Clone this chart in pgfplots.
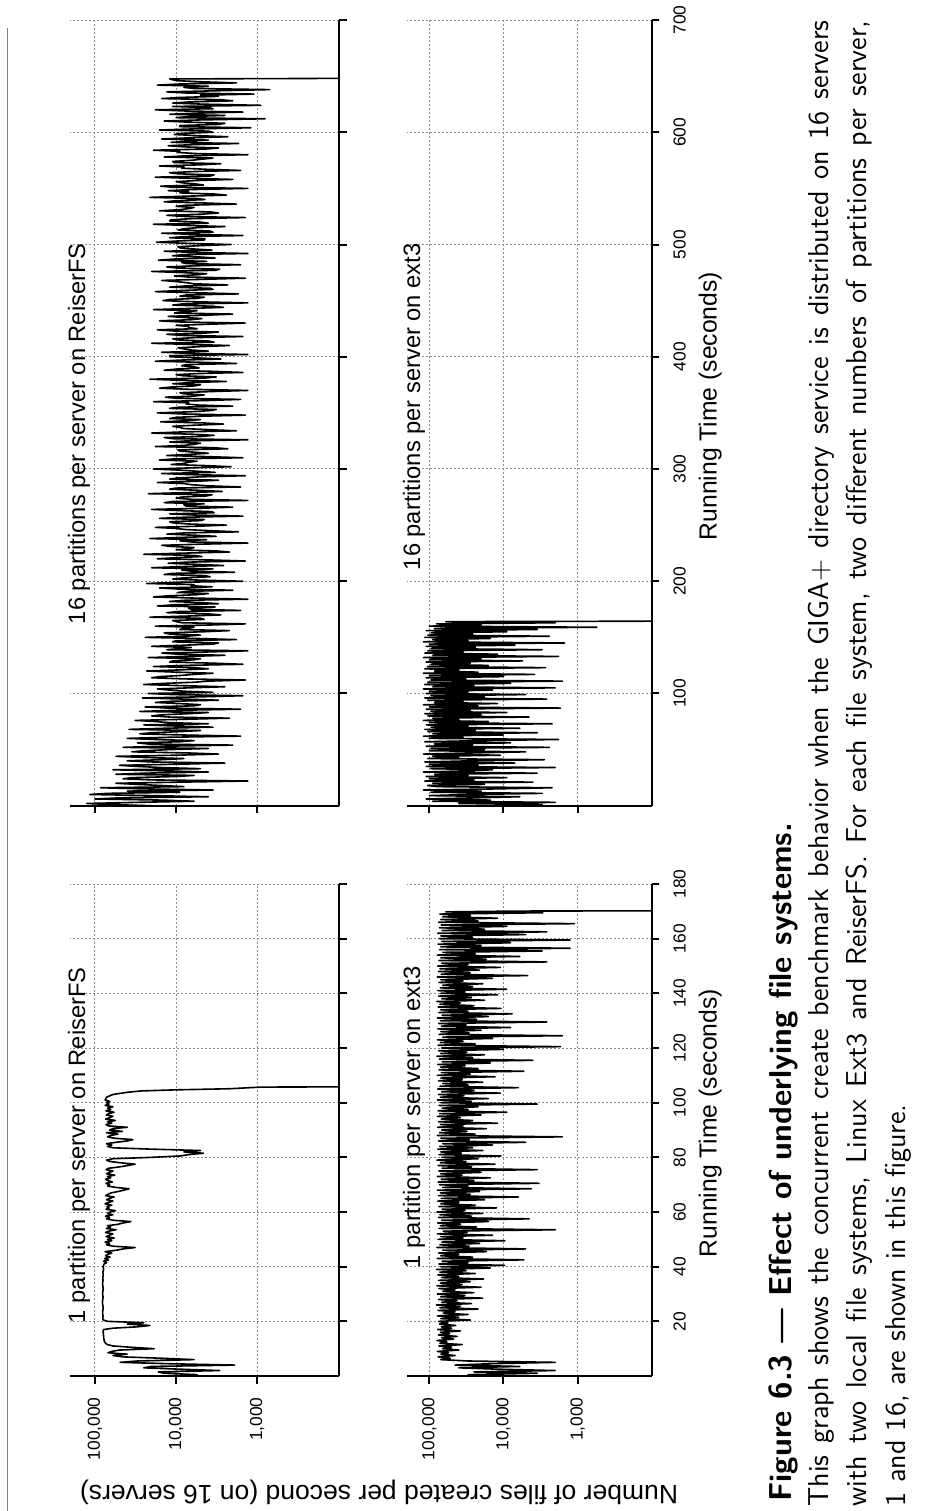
\documentclass[border=0pt]{standalone}
\usepackage{fontspec}
\usepackage{pgfplots}
\pgfplotsset{compat=1.18}
\newfontfamily\chartfont{Liberation Sans}
\newcommand{\tfont}{\chartfont\fontsize{8.7}{10.4}\selectfont}
\pgfplotsset{
  mypanel/.style={
    scale only axis,
    axis x line=bottom, axis y line=right,
    axis line style={-, line width=1pt},
    tick style={line width=1pt, black},
    tick align=outside, major tick length=3.75pt,
    xtick={1000,10000,100000}, xminorticks=false, yminorticks=false,
    grid=major, grid style={black!45, line width=0.5pt, dash pattern=on 1pt off 1pt},
    tick label style={font=\tfont, inner sep=0pt},
    xticklabel style={font=\tfont, rotate=90, anchor=east},
    yticklabel style={font=\tfont, rotate=90, anchor=north},
    xticklabel shift=6.75pt, yticklabel shift=6.75pt,
    clip=true,
  },
  mydline/.style={black, line width=0.8pt, mark=none, line join=round},
}
\begin{document}
\begin{tikzpicture}
\useasboundingbox (0,0) rectangle (465.5pt,-755.5pt);
\draw[black!50, line width=0.65pt] (3.7pt,-14pt) -- (3.7pt,-755.5pt);

% 1 partition, ReiserFS
\begin{axis}[xmode=log, x dir=reverse, mypanel, at={(35pt,-688pt)}, anchor=south west, width=134.5pt, height=246pt,
  xmin=98, xmax=203000, ymin=0, ymax=180, ytick={20,40,...,180}, yticklabels={},
  xticklabels={{\tfont 1,000},{\tfont 10,000},{\tfont 100,000}}]
\addplot[mydline] coordinates {(8000,0) (5500,0.5) (14000,1) (16600,1.5) (2900,2) (9000,2.5) (25000,3) (20000,3.5) (1900,4) (12000,4.5) (49000,5) (30000,5.5) (6000,6) (15000,6.5) (45000,7) (60000,7.5) (40000,8) (69000,8.5) (62000,9) (50000,9.5) (18600,10) (35000,10.5) (60000,11) (70000,11.5) (74000,12) (76000,12.5) (77000,13) (77500,13.5) (78000,14) (78500,15) (79000,16) (79500,16.5) (78000,17) (60000,17.5) (30000,18) (21000,18.5) (40000,19) (25000,19.5) (70000,20) (79000,20.5) (80000,21) (79500,22) (80500,23) (80000,24) (79000,25) (80000,26) (81000,27) (80000,28) (79500,29) (80500,30) (80000,31) (79000,32) (80000,33) (80500,34) (79500,35) (80000,36) (79000,37) (80000,38) (78000,39) (79500,40) (77000,41) (72000,41.5) (78000,42) (68000,42.5) (76000,43) (65000,43.5) (74000,44) (70000,44.5) (62000,45) (75000,45.5) (55000,46) (45000,46.5) (32000,47) (60000,47.5) (72000,48) (66000,48.5) (75000,49) (62000,49.5) (70000,50) (58000,50.5) (73000,51) (66000,51.5) (60000,52) (74000,52.5) (68000,53) (55000,53.5) (72000,54) (64000,54.5) (70000,55) (52000,55.5) (45000,56) (36000,56.5) (60000,57) (72000,57.5) (66000,58) (74000,58.5) (60000,59) (70000,59.5) (65000,60) (56000,60.5) (73000,61) (67000,61.5) (71000,62) (62000,62.5) (75000,63) (68000,63.5) (60000,64) (72000,64.5) (66000,65) (58000,65.5) (74000,66) (69000,66.5) (63000,67) (52000,67.5) (44000,68) (38000,68.5) (55000,69) (70000,69.5) (66000,70) (73000,70.5) (61000,71) (69000,71.5) (74000,72) (64000,72.5) (70000,73) (57000,73.5) (72000,74) (66000,74.5) (60000,75) (73000,75.5) (68000,76) (50000,76.5) (40000,77) (32000,77.5) (48000,78) (66000,78.5) (72000,79) (60000,79.5) (20000,80) (9000,80.5) (7000,81) (4600,81.5) (8000,82) (5000,82.5) (20000,83) (60000,83.5) (70000,84) (62000,84.5) (72000,85) (55000,85.5) (40000,86) (34000,86.5) (58000,87) (70000,87.5) (64000,88) (52000,88.5) (72000,89) (46000,89.5) (66000,90) (60000,90.5) (40000,91) (68000,91.5) (73000,92) (62000,92.5) (70000,93) (56000,93.5) (74000,94) (66000,94.5) (60000,95) (72000,95.5) (68000,96) (58000,96.5) (73000,97) (64000,97.5) (70000,98) (60000,98.5) (75000,99) (67000,99.5) (72000,100) (66000,100.5) (75000,101) (72000,102) (60000,103) (40000,103.8) (27000,104.3) (10000,104.7) (2200,105.1) (900,105.7) (1,106)};
\end{axis}

% 1 partition, ext3
\begin{axis}[xmode=log, x dir=reverse, mypanel, at={(203.5pt,-688pt)}, anchor=south west, width=122.5pt, height=246pt,
  xmin=99, xmax=200000, ymin=0, ymax=180, ytick={20,40,...,180},
  yticklabels={{\tfont 20},{\tfont 40},{\tfont 60},{\tfont 80},{\tfont 100},{\tfont 120},{\tfont 140},{\tfont 160},{\tfont 180}},
  xticklabels={{\tfont 1,000},{\tfont 10,000},{\tfont 100,000}}]
\addplot[mydline] coordinates {(8000,0) (30000,0.5) (3500,1) (25000,1.5) (2000,2) (12000,2.5) (40000,3) (6000,3.5) (45000,4) (15000,4.5) (2000,5) (30000,5.5) (70000,6) (52000,6.5) (76000,7) (45000,7.5) (70000,8) (55000,8.5) (78000,9) (40000,9.5) (66000,10) (50000,10.5) (74000,11) (36000,11.5) (72000,12) (58000,12.5) (79000,13) (47000,13.5) (68000,14) (42000,14.5) (75000,15) (53000,15.5) (71000,16) (38000,16.5) (77000,17) (50000,17.5) (69000,18) (44000,18.5) (73000,19) (56000,19.5) (75000,20) (28000,20.5) (70000,21) (40000,21.5) (78000,22) (30000,22.5) (65000,23) (45000,23.5) (76000,24) (22000,24.5) (72000,25) (38000,25.5) (80000,26) (27000,26.5) (68000,27) (42000,27.5) (75000,28) (19000,28.5) (70000,29) (33000,29.5) (78000,30) (25000,30.5) (66000,31) (45000,31.5) (74000,32) (20000,32.5) (79000,33) (36000,33.5) (71000,34) (28000,34.5) (75000,35) (18500,35.5) (68000,36) (40000,36.5) (77000,37) (24000,37.5) (72000,38) (32000,38.5) (80000,39) (15000,39.5) (70000,40) (9600,40.5) (74000,41) (30000,41.5) (67000,42) (5300,42.5) (78000,43) (26000,43.5) (70000,44) (40000,44.5) (75000,45) (17000,45.5) (66000,46) (5000,46.5) (79000,47) (29000,47.5) (72000,48) (21000,48.5) (68000,49) (9600,49.5) (76000,50) (35000,50.5) (70000,51) (14000,51.5) (78000,52) (31000,52.5) (65000,53) (2000,53.5) (74000,54) (23000,54.5) (71000,55) (38000,55.5) (77000,56) (16000,56.5) (68000,57) (4500,57.5) (75000,58) (27000,58.5) (72000,59) (19000,59.5) (79000,60) (33000,60.5) (67000,61) (12300,61.5) (74000,62) (24000,62.5) (70000,63) (40000,63.5) (77000,64) (18000,64.5) (69000,65) (6300,65.5) (75000,66) (28000,66.5) (71000,67) (21000,67.5) (78000,68) (4200,68.5) (66000,69) (30000,69.5) (73000,70) (3300,70.5) (76000,71) (25000,71.5) (69000,72) (15000,72.5) (78000,73) (36000,73.5) (70000,74) (20000,74.5) (74000,75) (3500,75.5) (67000,76) (27000,76.5) (76000,77) (13000,77.5) (71000,78) (32000,78.5) (79000,79) (22000,79.5) (68000,80) (10800,80.5) (74000,81) (37000,81.5) (70000,82) (19000,82.5) (77000,83) (26000,83.5) (72000,84) (14000,84.5) (66000,85) (5000,85.5) (75000,86) (29000,86.5) (70000,87) (1600,87.5) (78000,88) (24000,88.5) (73000,89) (31000,89.5) (68000,90) (17000,90.5) (77000,91) (35000,91.5) (71000,92) (12000,92.5) (75000,93) (26000,93.5) (69000,94) (38000,94.5) (78000,95) (20000,95.5) (72000,96) (9000,96.5) (76000,97) (30000,97.5) (67000,98) (22000,98.5) (74000,99) (3500,99.5) (70000,100) (27000,100.5) (78000,101) (16000,101.5) (71000,102) (34000,102.5) (75000,103) (11000,103.5) (68000,104) (25000,104.5) (77000,105) (6300,105.5) (72000,106) (30000,106.5) (66000,107) (19000,107.5) (75000,108) (36000,108.5) (70000,109) (13000,109.5) (78000,110) (28000,110.5) (69000,111) (5300,111.5) (74000,112) (22000,112.5) (71000,113) (33000,113.5) (77000,114) (15000,114.5) (67000,115) (4000,115.5) (73000,116) (26000,116.5) (79000,117) (18000,117.5) (70000,118) (31000,118.5) (75000,119) (10000,119.5) (68000,120) (1700,120.5) (76000,121) (24000,121.5) (71000,122) (35000,122.5) (78000,123) (14000,123.5) (66000,124) (1600,124.5) (74000,125) (29000,125.5) (70000,126) (20000,126.5) (77000,127) (8000,127.5) (69000,128) (32000,128.5) (75000,129) (2600,129.5) (71000,130) (23000,130.5) (78000,131) (16000,131.5) (67000,132) (7600,132.5) (74000,133) (30000,133.5) (70000,134) (10800,134.5) (76000,135) (25000,135.5) (72000,136) (38000,136.5) (79000,137) (18000,137.5) (68000,138) (27000,138.5) (75000,139) (12000,139.5) (70000,140) (33000,140.5) (77000,141) (9100,141.5) (71000,142) (26000,142.5) (66000,143) (19000,143.5) (74000,144) (35000,144.5) (70000,145) (14000,145.5) (78000,146) (4700,146.5) (69000,147) (28000,147.5) (75000,148) (21000,148.5) (72000,149) (11000,149.5) (77000,150) (30000,150.5) (68000,151) (2600,151.5) (74000,152) (17000,152.5) (70000,153) (6000,153.5) (78000,154) (24000,154.5) (66000,155) (3000,155.5) (73000,156) (1260,156.5) (70000,157) (20000,157.5) (76000,158) (8000,158.5) (68000,159) (1260,159.5) (74000,160) (26000,160.5) (70000,161) (5000,161.5) (77000,162) (2600,162.5) (67000,163) (18000,163.5) (73000,164) (9000,164.5) (69000,165) (1100,165.5) (75000,166) (22000,166.5) (70000,167) (12000,167.5) (66000,168) (28000,168.5) (72000,169) (2950,169.5) (60000,169.8) (7000,170.1) (1,170.3)};
\end{axis}

% 16 partitions, ReiserFS
\begin{axis}[xmode=log, x dir=reverse, mypanel, at={(35pt,-402.85pt)}, anchor=south west, width=134.5pt, height=392.85pt,
  xmin=98, xmax=203000, ymin=0, ymax=700, ytick={100,200,...,700}, yticklabels={},
  xticklabels={}]
\addplot[mydline] coordinates {(20000,0) (60000,1) (126000,2) (30000,3) (6000,4) (15000,5) (100000,6) (50000,7) (4000,8) (20000,9) (115000,10) (70000,11) (9000,12) (40000,13) (3500,14) (25000,15) (85000,16) (8000,17) (15000,18) (30000,19) (55000,20) (9000,21) (1300,22) (20000,23) (45000,24) (35000,25) (10000,26) (6000,27) (55000,28) (25000,29) (4000,30) (12000,31) (60000,32) (5000,33) (15000,34) (30000,35) (50000,36) (9000,37) (2500,38) (20000,39) (40000,40) (15000,41) (8000,42) (25000,43) (55000,44) (10000,45) (3000,46) (7000,47) (35000,48) (25000,49) (12000,50) (4000,51) (45000,52) (15000,53) (2000,54) (22000,55) (30000,56) (9000,57) (6000,58) (18000,59) (40000,60) (12000,61) (1600,62) (8000,63) (28000,64) (20000,65) (9000,66) (5000,67) (38000,68) (14000,69) (3500,70) (10000,71) (25000,72) (4000,73) (12000,74) (18000,75) (32000,76) (8000,77) (2200,78) (12000,79) (20000,80) (15000,81) (7000,82) (4000,83) (28000,84) (10000,85) (1600,86) (13000,87) (24000,88) (6000,89) (5000,90) (9000,91) (18000,92) (12000,93) (3000,94) (8000,95) (26000,96) (5000,97) (1500,98) (11000,99) (22000,100) (3500,101) (8000,102) (12000,103) (17000,104) (7000,105) (2500,106) (9000,107) (25000,108) (14000,109) (6000,110) (4000,111) (1400,112) (8000,113) (20000,114) (16000,115) (9000,116) (6000,117) (3500,118) (10000,119) (23000,120) (9000,121) (4000,122) (6000,123) (19000,124) (8000,125) (1500,126) (3500,127) (12000,128) (11000,129) (6000,130) (5000,131) (22000,132) (7000,133) (2500,134) (9500,135) (15000,136) (4000,137) (1300,138) (13000,139) (9000,140) (6500,141) (20000,142) (8000,143) (3500,144) (3000,145) (11000,146) (10000,147) (1800,148) (5500,149) (24000,150) (7500,151) (5000,152) (12000,153) (14000,154) (4500,155) (2200,156) (9000,157) (8000,158) (6000,159) (18000,160) (3800,161) (1400,162) (8500,163) (10000,164) (11000,165) (4500,166) (5000,167) (21000,168) (7000,169) (2800,170) (4200,171) (13000,172) (9500,173) (1600,174) (6500,175) (7000,176) (3300,177) (17000,178) (10500,179) (3000,180) (5000,181) (12000,182) (8000,183) (1300,184) (6000,185) (19000,186) (12500,187) (5500,188) (4000,189) (9500,190) (7000,191) (2000,192) (9000,193) (16000,194) (3600,195) (6500,196) (6000,197) (23000,198) (10000,199) (1500,200) (5200,201) (11000,202) (8000,203) (3800,204) (4400,205) (14000,206) (11000,207) (1900,208) (6500,209) (8500,210) (3500,211) (20000,212) (9000,213) (2600,214) (5500,215) (12500,216) (7500,217) (1400,218) (4000,219) (17000,220) (10000,221) (4800,222) (6000,223) (25000,224) (8500,225) (2200,226) (3200,227) (10000,228) (7000,229) (6000,230) (11500,231) (15000,232) (5000,233) (1300,234) (6500,235) (9000,236) (4200,237) (21000,238) (9000,239) (3200,240) (6000,241) (13000,242) (8000,243) (1700,244) (3700,245) (7500,246) (10000,247) (18000,248) (5500,249) (2400,250) (7000,251) (11000,252) (12000,253) (5000,254) (4500,255) (16000,256) (8000,257) (1500,258) (6000,259) (12000,260) (3400,261) (3600,262) (9500,263) (20000,264) (5000,265) (2000,266) (7500,267) (8000,268) (4500,269) (14000,270) (11000,271) (1300,272) (6500,273) (10000,274) (8500,275) (4200,276) (3600,277) (22000,278) (7000,279) (2700,280) (5200,281) (12000,282) (10000,283) (1600,284) (4000,285) (6500,286) (8000,287) (17000,288) (6000,289) (3000,290) (12000,291) (9500,292) (5000,293) (1400,294) (7000,295) (15000,296) (3300,297) (5500,298) (9000,299) (19000,300) (6500,301) (2100,302) (4200,303) (11500,304) (8000,305) (7000,306) (5500,307) (16000,308) (10500,309) (1500,310) (4000,311) (13000,312) (7000,313) (4000,314) (6000,315) (9000,316) (9500,317) (2300,318) (3500,319) (18000,320) (8000,321) (6000,322) (5000,323) (12000,324) (7500,325) (1300,326) (11000,327) (14000,328) (4800,329) (3400,330) (6500,331) (20000,332) (8500,333) (1800,334) (3800,335) (8000,336) (9000,337) (11000,338) (6000,339) (2600,340) (4500,341) (15500,342) (7500,343) (5000,344) (12000,345) (10000,346) (5000,347) (1400,348) (8000,349) (17000,350) (6500,351) (3800,352) (3200,353) (12000,354) (9500,355) (2000,356) (5500,357) (7500,358) (7000,359) (19000,360) (4200,361) (1600,362) (10000,363) (13500,364) (6000,365) (4500,366) (8000,367) (9000,368) (3600,369) (1300,370) (7000,371) (16000,372) (11500,373) (6000,374) (5000,375) (11000,376) (6500,377) (2400,378) (9000,379) (21000,380) (4400,381) (3200,382) (8000,383) (10000,384) (5500,385) (1500,386) (3500,387) (14000,388) (10000,389) (5200,390) (6000,391) (8500,392) (7500,393) (1800,394) (4500,395) (18000,396) (9000,397) (2800,398) (5500,399) (12000,400) (12000,401) (1300,402) (6500,403) (15000,404) (4000,405) (6500,406) (8000,407) (9500,408) (5000,409) (2200,410) (7000,411) (20000,412) (3400,413) (4000,414) (9500,415) (11000,416) (6000,417) (1500,418) (8500,419) (13000,420) (4600,421) (3000,422) (11000,423) (17000,424) (5500,425) (7000,426) (7000,427) (10000,428) (3800,429) (1400,430) (9000,431) (16000,432) (6500,433) (4800,434) (8000,435) (12500,436) (4200,437) (2000,438) (10500,439) (8000,440) (5500,441) (19000,442) (7000,443) (2600,444) (3500,445) (11000,446) (8500,447) (1300,448) (6000,449) (14500,450) (12000,451) (5500,452) (4500,453) (9000,454) (7500,455) (1700,456) (5500,457) (18000,458) (9000,459) (3500,460) (3800,461) (12000,462) (8000,463) (2300,464) (6000,465) (7500,466) (10000,467) (15000,468) (4500,469) (1400,470) (7000,471) (10500,472) (5500,473) (4200,474) (8500,475) (20000,476) (3300,477) (2900,478) (9500,479) (13000,480) (6000,481) (1600,482) (7500,483) (8500,484) (4200,485) (16500,486) (11000,487) (3300,488) (5500,489) (11000,490) (8000,491) (1300,492) (6500,493) (14000,494) (3600,495) (6000,496) (9000,497) (9500,498) (5000,499) (2100,500) (7000,501) (17500,502) (10500,503) (4500,504) (4400,505) (12000,506) (8000,507) (1500,508) (6000,509) (15000,510) (3500,511) (3800,512) (9500,513) (8000,514) (5500,515) (2500,516) (7500,517) (19000,518) (4000,519) (5000,520) (12000,521) (11500,522) (6500,523) (1400,524) (8000,525) (13000,526) (5000,527) (3000,528) (3700,529) (16000,530) (9000,531) (7000,532) (6000,533) (10000,534) (7500,535) (1800,536) (4500,537) (14000,538) (10000,539) (4400,540) (5500,541) (21000,542) (8000,543) (2400,544) (3400,545) (9000,546) (7000,547) (12500,548) (6000,549) (1300,550) (11000,551) (15500,552) (4600,553) (5800,554) (8500,555) (10000,556) (5500,557) (2000,558) (7000,559) (18000,560) (3800,561) (3400,562) (9500,563) (12000,564) (6000,565) (1600,566) (4200,567) (8500,568) (8000,569) (16000,570) (5000,571) (2800,572) (10500,573) (11000,574) (6500,575) (4800,576) (3500,577) (14000,578) (7500,579) (1300,580) (5500,581) (9500,582) (9000,583) (19000,584) (4400,585) (3000,586) (8000,587) (12500,588) (6000,589) (1700,590) (11500,591) (7000,592) (4000,593) (15000,594) (7000,595) (2300,596) (5500,597) (10500,598) (8500,599) (3500,600) (4000,601) (16000,602) (6000,603) (1200,604) (9000,605) (9000,606) (3000,607) (2500,608) (7000,609) (14000,610) (5000,611) (800,612) (10000,613) (7000,614) (2500,615) (12000,616) (6000,617) (1500,618) (8000,619) (18000,620) (3500,621) (4000,622) (11000,623) (900,624) (4500,625) (11000,626) (7000,627) (2000,628) (2800,629) (15000,630) (9000,631) (3000,632) (5000,633) (1100,634) (7500,635) (13000,636) (3000,637) (700,638) (6000,639) (8000,640) (4000,641) (17000,642) (9000,643) (1800,644) (5000,645) (10000,646) (12000,647.5) (1,648.5)};
\end{axis}

% 16 partitions, ext3
\begin{axis}[xmode=log, x dir=reverse, mypanel, at={(203.5pt,-402.85pt)}, anchor=south west, width=122.5pt, height=392.85pt,
  xmin=99, xmax=200000, ymin=0, ymax=700, ytick={100,200,...,700},
  yticklabels={{\tfont 100},{\tfont 200},{\tfont 300},{\tfont 400},{\tfont 500},{\tfont 600},{\tfont 700}}, xticklabels={}]
\addplot[mydline] coordinates {(12000,0) (3000,1) (40000,2) (2000,3) (90000,4) (15000,5) (110000,6) (25000,7) (6000,8) (100000,9) (30000,10) (3000,11) (95000,12) (20000,13) (120000,14) (12000,15) (2200,16) (80000,17) (105000,18) (18000,19) (90000,20) (4000,21) (115000,22) (25000,23) (100000,24) (9000,25) (110000,26) (30000,27) (85000,28) (3500,29) (120000,30) (35000,31) (14000,32) (95000,33) (2000,34) (110000,35) (22000,36) (100000,37) (7000,38) (115000,39) (28000,40) (2800,41) (105000,42) (40000,43) (90000,44) (11000,45) (120000,46) (30000,47) (5000,48) (100000,49) (18000,50) (95000,51) (2400,52) (110000,53) (26000,54) (85000,55) (8000,56) (115000,57) (20000,58) (1800,59) (100000,60) (35000,61) (120000,62) (10000,63) (90000,64) (3500,65) (105000,66) (24000,67) (115000,68) (6000,69) (95000,70) (30000,71) (110000,72) (2200,73) (100000,74) (16000,75) (120000,76) (40000,77) (90000,78) (4500,79) (105000,80) (20000,81) (115000,82) (9000,83) (95000,84) (28000,85) (110000,86) (1700,87) (100000,88) (22000,89) (120000,90) (12000,91) (85000,92) (35000,93) (105000,94) (2600,95) (115000,96) (18000,97) (95000,98) (5000,99) (110000,100) (30000,101) (100000,102) (14000,103) (120000,104) (2000,105) (90000,106) (25000,107) (115000,108) (8000,109) (105000,110) (1600,111) (95000,112) (32000,113) (110000,114) (10000,115) (100000,116) (3800,117) (120000,118) (22000,119) (85000,120) (40000,121) (115000,122) (2700,123) (105000,124) (16000,125) (95000,126) (28000,127) (110000,128) (5500,129) (100000,130) (20000,131) (120000,132) (1800,133) (90000,134) (12000,135) (115000,136) (35000,137) (105000,138) (3000,139) (95000,140) (24000,141) (110000,142) (7000,143) (100000,144) (1500,145) (120000,146) (30000,147) (90000,148) (15000,149) (115000,150) (2400,151) (105000,152) (26000,153) (95000,154) (9000,155) (110000,156) (3500,157) (85000,158) (550,159) (100000,160) (20000,161) (80000,162) (2000,163) (60000,164) (1,164.7)};
\end{axis}

% panel labels
\begin{scope}[every node/.style={font=\chartfont\fontsize{11.85}{14}\selectfont, rotate=90, inner sep=0pt, anchor=base east}]
\node at (42.5pt,-483.5pt) {1 partition per server on ReiserFS};
\node at (210pt,-483pt) {1 partition per server on ext3};
\node at (42.5pt,-121.5pt) {16 partitions per server on ReiserFS};
\node at (210pt,-121.5pt) {16 partitions per server on ext3};
\end{scope}
\begin{scope}[every node/.style={inner sep=0pt}]
\node[rotate=90, anchor=base, font=\chartfont\fontsize{12.35}{15}\selectfont] at (358.25pt,-561.5pt) {Running Time (seconds)};
\node[rotate=90, anchor=base, font=\chartfont\fontsize{12.35}{15}\selectfont] at (358.25pt,-203pt) {Running Time (seconds)};
\node[rotate=180, anchor=base, font=\chartfont\fontsize{13.25}{15}\selectfont] at (189.5pt,-742.5pt) {Number of files created per second (on 16 servers)};
\end{scope}

% caption
\node[rotate=90, anchor=base west, inner sep=0pt, font=\sffamily\bfseries\fontsize{15.85}{18}\selectfont] at (395.85pt,-751pt) {Figure 6.3 — Effect of underlying file systems.};
\begin{scope}[every node/.style={rotate=90, anchor=base west, inner sep=0pt, font=\sffamily\fontsize{14.4}{19.2}\selectfont}]
\node at (414.15pt,-753.35pt) {\makebox[743pt][s]{This graph shows the concurrent create benchmark behavior when the GIGA$+$ directory service is distributed on 16 servers}};
\node at (433.35pt,-753.35pt) {\makebox[743pt][s]{with two local file systems, Linux Ext3 and ReiserFS. For each file system, two different numbers of partitions per server,}};
\node at (452.5pt,-753.35pt) {1 and 16, are shown in this figure.};
\end{scope}
\end{tikzpicture}
\end{document}
